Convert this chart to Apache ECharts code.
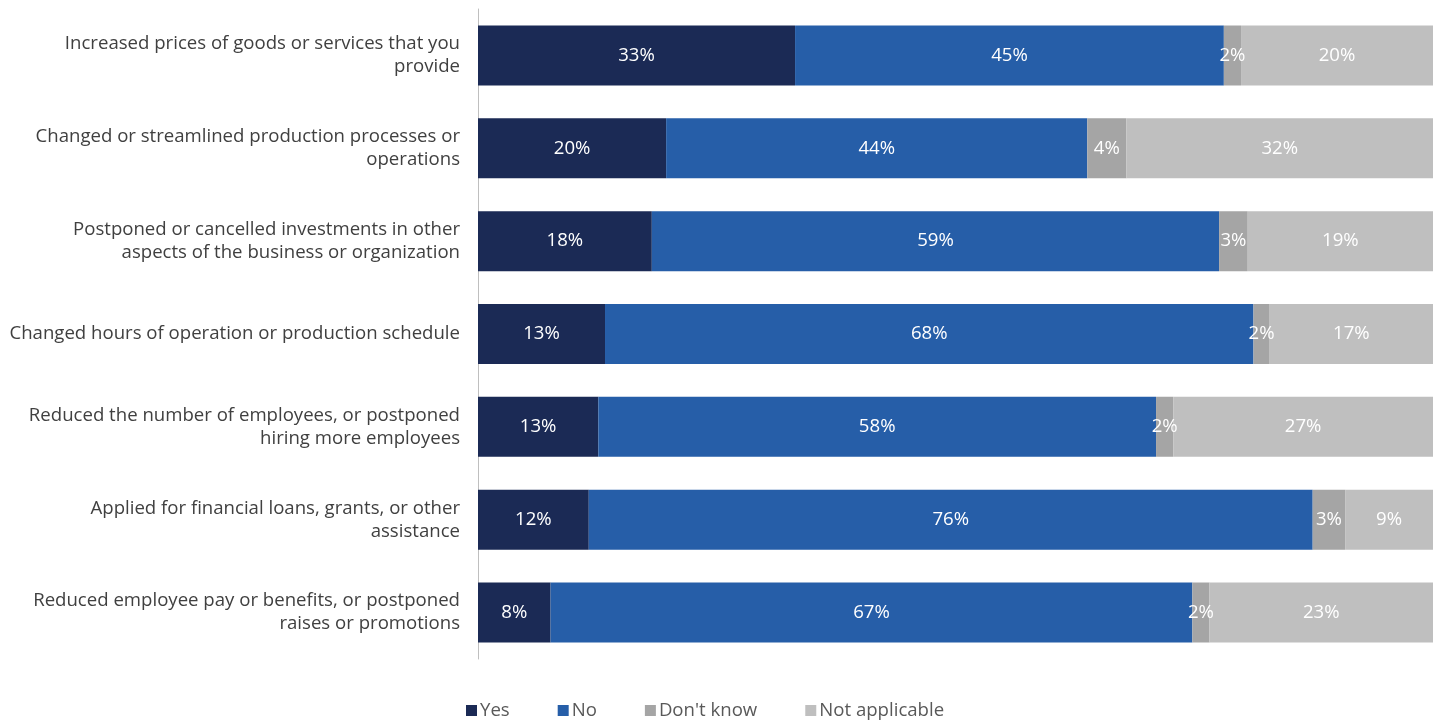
<!DOCTYPE html>
<html>
<head>
<meta charset="utf-8">
<script src="https://cdn.jsdelivr.net/npm/echarts@6/dist/echarts.min.js"></script>
<style>html,body{margin:0;padding:0;background:#fff}#c{width:1434px;height:721px}</style>
</head>
<body>
<div id="c"></div>
<script>
const categories = [
  'Increased prices of goods or services that you\nprovide',
  'Changed or streamlined production processes or\noperations',
  'Postponed or cancelled investments in other\naspects of the business or organization',
  'Changed hours of operation or production schedule',
  'Reduced the number of employees, or postponed\nhiring more employees',
  'Applied for financial loans, grants, or other\nassistance',
  'Reduced employee pay or benefits, or postponed\nraises or promotions'
];
const seriesNames = ['Yes', 'No', "Don't know", 'Not applicable'];
const yesValues = [33.2, 19.7, 18.2, 13.3, 12.6, 11.6, 7.6];
const noValues = [44.9, 44.1, 59.4, 67.9, 58.4, 75.8, 67.2];
const dontKnowValues = [1.8, 4.1, 3.0, 1.7, 1.8, 3.4, 1.8];
const notApplicableValues = [20.1, 32.1, 19.4, 17.1, 27.2, 9.2, 23.4];
const colors = ['#1b2a55', '#265ea8', '#a5a5a5', '#bfbfbf'];

const FONT = 'Open Sans';
const allValues = [yesValues, noValues, dontKnowValues, notApplicableValues];
const chart = echarts.init(document.getElementById('c'));
chart.setOption({
  animation: false,
  color: colors,
  textStyle: { fontFamily: FONT },
  grid: { left: 478, right: 1, top: 9, bottom: 62, containLabel: false },
  legend: {
    bottom: -4,
    left: 461,
    itemWidth: 11,
    itemHeight: 11,
    itemGap: 48,
    icon: 'rect',
    textStyle: { fontFamily: FONT, fontSize: 18.6, color: '#595959', padding: [2, 0, 0, -2] },
    data: seriesNames
  },
  xAxis: {
    type: 'value',
    min: 0,
    max: 100,
    show: false
  },
  yAxis: {
    type: 'category',
    inverse: true,
    data: categories,
    axisLine: { show: true, lineStyle: { color: '#bfbfbf', width: 1 } },
    axisTick: { show: false },
    axisLabel: { fontFamily: FONT, fontSize: 18.6, color: '#404040', margin: 18, lineHeight: 23, align: 'right', padding: [2, 0, 0, 0] }
  },
  series: seriesNames.map((name, i) => ({
    name: name,
    type: 'bar',
    stack: 'total',
    barWidth: 60,
    data: allValues[i],
    label: {
      show: true,
      position: 'inside',
      color: '#ffffff',
      fontFamily: FONT,
      fontSize: 18.6,
      formatter: p => Math.round(p.value) + '%'
    }
  }))
});
</script>
</body>
</html>
